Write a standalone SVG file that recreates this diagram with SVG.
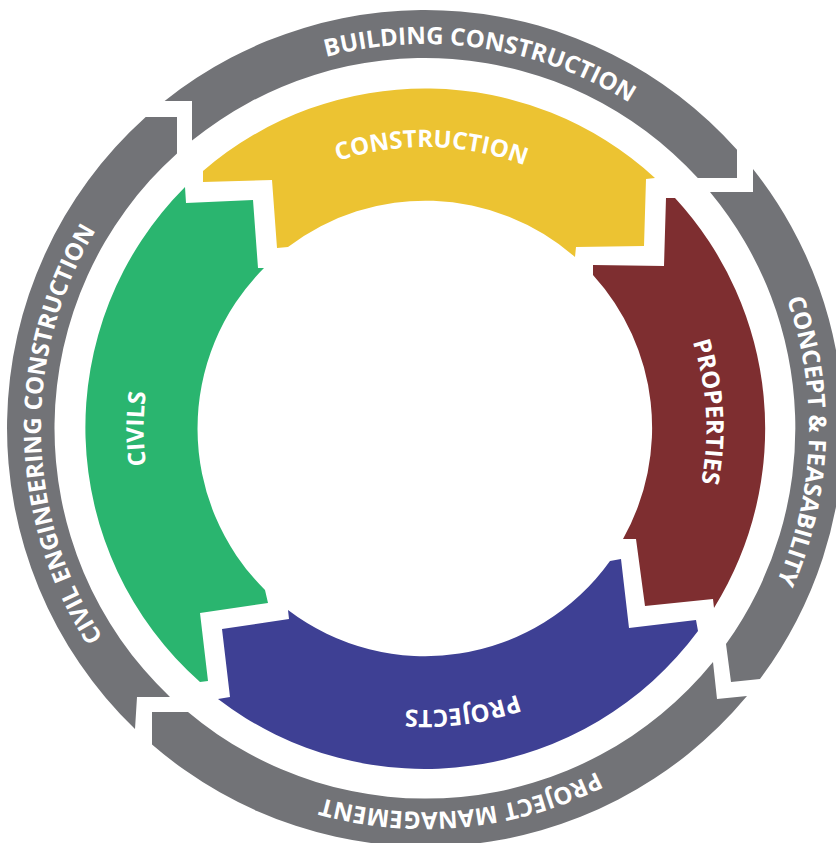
<svg xmlns="http://www.w3.org/2000/svg" width="836" height="843" viewBox="0 0 836 843">
<defs>
<style>
.gray{fill:#727377}
.yellow{fill:#ECC332}
.maroon{fill:#7E2E30}
.blue{fill:#3E4094}
.green{fill:#2AB56F}
.lbl{font-family:"Open Sans","Liberation Sans",sans-serif;font-weight:700;font-size:24px;fill:#ffffff}
</style>
<path id="outerText" fill="none" d="M 696.53 156.47 A 384 384 0 1 1 153.47 699.53 A 384 384 0 1 1 696.53 156.47"/>
<path id="innerText" fill="none" d="M 623.70 229.30 A 281 281 0 1 1 226.30 627.70 A 281 281 0 1 1 623.70 229.30"/>
</defs>
<rect width="836" height="843" fill="#ffffff"/>
<g id="connectors"></g>
<g id="building-construction">
<path class="gray" d="M 164.6 101 A 418 418 0 0 1 737 149.8 L 737 178 L 697.8 178 A 370 370 0 0 0 192 140.6 L 192 101 Z"/>
<text class="lbl"><textPath href="#outerText" startOffset="89.89%" text-anchor="middle">BUILDING CONSTRUCTION</textPath></text>
</g>
<g id="concept-feasability">
<path class="gray" d="M 753 168.9 A 418 418 0 0 1 760 679 L 731 682 L 726 644 A 370 370 0 0 0 710 192 L 753 192 Z"/>
<text class="lbl"><textPath href="#outerText" startOffset="13.06%" text-anchor="middle">CONCEPT &amp; FEASABILITY</textPath></text>
</g>
<g id="project-management">
<path class="gray" d="M 747 696 A 418 418 0 0 1 152 744.5 L 152 712 L 188 712 A 370 370 0 0 0 713 662 L 717 699 Z"/>
<text class="lbl"><textPath href="#outerText" startOffset="35.97%" text-anchor="middle">PROJECT MANAGEMENT</textPath></text>
</g>
<g id="civil-engineering-construction">
<path class="gray" d="M 135 729 A 418 418 0 0 1 145.7 117 L 177 117 L 177 153.4 A 370 370 0 0 0 170 697 L 137 697 Z"/>
<text class="lbl"><textPath href="#outerText" startOffset="62.22%" text-anchor="middle">CIVIL ENGINEERING CONSTRUCTION</textPath></text>
</g>
<g id="construction">
<path class="yellow" d="M 203 171 A 340 340 0 0 1 655 178 L 646 179 L 644 246 L 576 247 L 575 257 A 227 227 0 0 0 288 247 L 277 248 L 272 180 L 203 182 Z"/>
<text class="lbl"><textPath href="#innerText" startOffset="87.89%" text-anchor="middle">CONSTRUCTION</textPath></text>
</g>
<g id="properties">
<path class="maroon" d="M 675 198 A 340 340 0 0 1 714 608 L 713 599 L 645 606 L 636 539 L 623 539 A 227 227 0 0 0 593 275 L 593 265 L 664 266 L 666 198 Z"/>
<text class="lbl"><textPath href="#innerText" startOffset="11.58%" text-anchor="middle">PROPERTIES</textPath></text>
</g>
<g id="projects">
<path class="blue" d="M 698 631 A 340 340 0 0 1 218 699 L 230 697 L 222 629 L 289 619 L 288 610 A 227 227 0 0 0 610 561 L 621 559 L 629 628 L 696 620 Z"/>
<text class="lbl"><textPath href="#innerText" startOffset="35.42%" text-anchor="middle">PROJECTS</textPath></text>
</g>
<g id="civils">
<path class="green" d="M 200 682 A 340 340 0 0 1 185 187 L 186 203 L 253 200 L 258 268 L 264 268 A 227 227 0 0 0 265 590 L 268 603 L 200 613 L 208 681 Z"/>
<text class="lbl"><textPath href="#innerText" startOffset="62.5%" text-anchor="middle">CIVILS</textPath></text>
</g>
</svg>
